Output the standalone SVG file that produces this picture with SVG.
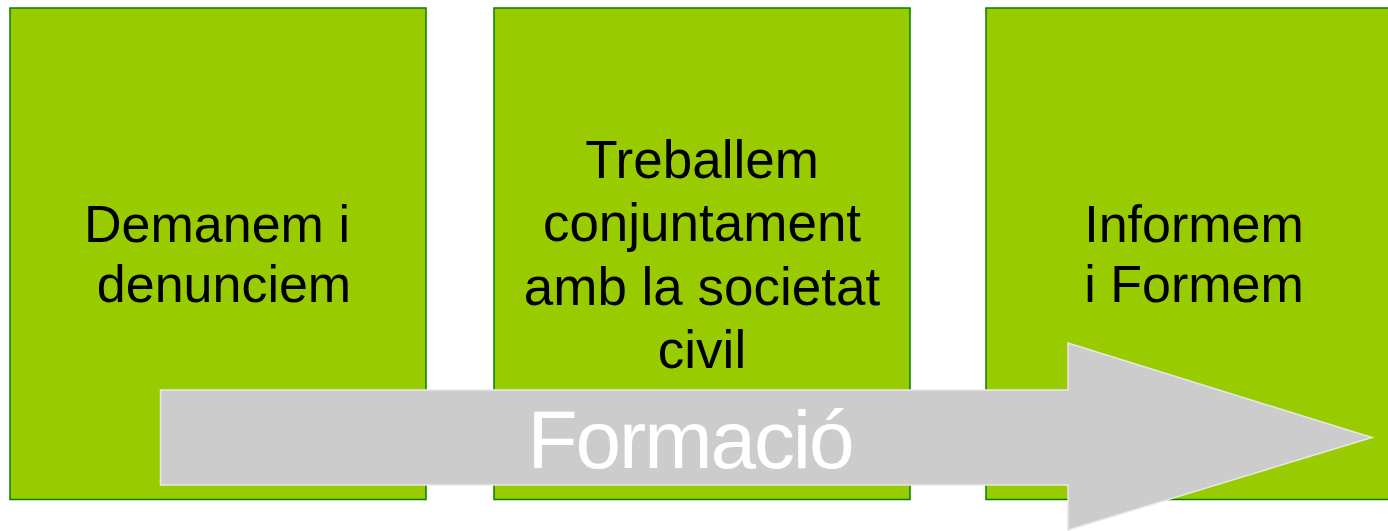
<svg xmlns="http://www.w3.org/2000/svg" width="1388" height="531" viewBox="0 0 1388 531">
<style>
.box{fill:#99CC00;stroke:#008000;stroke-width:1.5}
.lbl{font-family:"Liberation Sans",Arial,sans-serif;fill:#000;text-anchor:middle}
.arrow{fill:#CCCCCC;stroke:#E8E8E8;stroke-width:1.5}
.atxt{font-family:"Liberation Sans",Arial,sans-serif;fill:#FFFFFF;text-anchor:middle}
</style>
<rect width="1388" height="531" fill="#FFFFFF"/>
<g id="node1">
<rect class="box" x="10" y="8" width="416" height="491.5"/>
<text class="lbl" font-size="52"><tspan x="217" y="241.7">Demanem i</tspan><tspan x="224" y="301.7">denunciem</tspan></text>
</g>
<g id="node2">
<rect class="box" x="494" y="8" width="416" height="491.5"/>
<text class="lbl" font-size="53"><tspan x="702" y="177.7">Treballem</tspan><tspan x="702" y="241.2">conjuntament</tspan><tspan x="702" y="304.8">amb la societat</tspan><tspan x="702" y="368.3">civil</tspan></text>
</g>
<g id="node3">
<rect class="box" x="986" y="8" width="416" height="491.5"/>
<text class="lbl" font-size="52"><tspan x="1194" y="242.3">Informem</tspan><tspan x="1194" y="301.7">i Formem</tspan></text>
</g>
<g id="connectors">
<g id="arrow">
<path class="arrow" d="M160.5,390 L1068,390 L1068,343 L1372,437.5 L1068,530 L1068,485 L160.5,485 Z"/>
<text class="atxt" font-size="82" x="691" y="468" textLength="327" lengthAdjust="spacing">Formació</text>
</g>
</g>
</svg>
